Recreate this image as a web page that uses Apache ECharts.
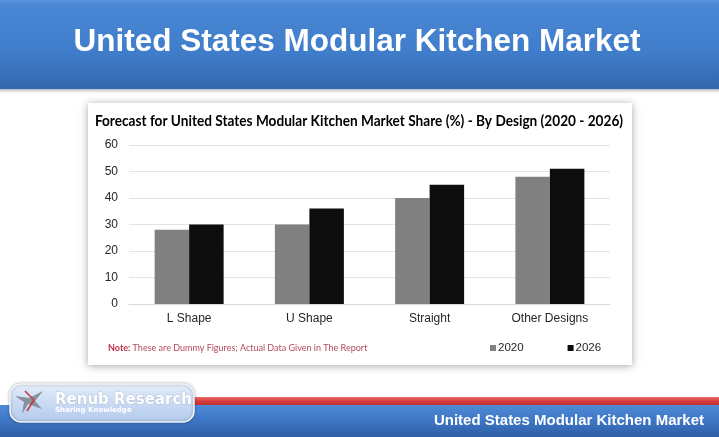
<!DOCTYPE html>
<html>
<head>
<meta charset="utf-8">
<script src="https://cdn.jsdelivr.net/npm/echarts@6/dist/echarts.min.js"></script>
<style>
html,body{margin:0;padding:0;background:#ffffff;}
#main{width:719px;height:437px;}
</style>
</head>
<body>
<div id="main"></div>
<script>
const categories = ['L Shape', 'U Shape', 'Straight', 'Other Designs'];
const seriesNames = ['2020', '2026'];
const values2020 = [28, 30, 40, 48];
const values2026 = [30, 36, 45, 51];
const yTicks = [0, 10, 20, 30, 40, 50, 60];

const slideTitle = 'United States Modular Kitchen Market';
const chartTitle = 'Forecast for United States Modular Kitchen Market Share (%) - By Design (2020 - 2026)';
const noteLabel = 'Note:';
const noteText = ' These are Dummy Figures; Actual Data Given in The Report';
const footerText = 'United States Modular Kitchen Market';
const logoName = 'Renub Research';
const logoTag = 'Sharing Knowledge';

const chart = echarts.init(document.getElementById('main'), null, {renderer: 'canvas'});
const arial = '"Liberation Sans", Arial, sans-serif';

const option = {
  backgroundColor: '#ffffff',
  animation: false,
  grid: {left: 129, right: 109, top: 145, bottom: 133, containLabel: false},
  xAxis: {
    type: 'category',
    data: categories,
    axisLine: {show: true, lineStyle: {color: '#d9d9d9'}},
    axisTick: {show: false},
    axisLabel: {color: '#262626', fontSize: 12, fontFamily: arial, margin: 9}
  },
  yAxis: {
    type: 'value',
    min: yTicks[0],
    max: yTicks[yTicks.length - 1],
    interval: 10,
    axisLine: {show: false},
    axisTick: {show: false},
    splitLine: {lineStyle: {color: '#e3e3e3', width: 1}},
    axisLabel: {color: '#262626', fontSize: 12, fontFamily: arial, margin: 11}
  },
  legend: {
    data: seriesNames,
    left: 490,
    top: 342,
    padding: 0,
    itemWidth: 6,
    itemHeight: 6,
    itemGap: 44,
    icon: 'rect',
    textStyle: {color: '#262626', fontSize: 11.5, fontFamily: arial, padding: [0, 0, 0, -3]}
  },
  series: [
    {name: seriesNames[0], type: 'bar', data: values2020, barWidth: 34.5, barGap: '0%',
     itemStyle: {color: '#808080'}},
    {name: seriesNames[1], type: 'bar', data: values2026, barWidth: 34.5, barGap: '0%',
     itemStyle: {color: '#0d0d0d'}}
  ],
  graphic: [
    // header band
    {type: 'rect', z: -10, shape: {x: 0, y: 0, width: 719, height: 89},
     style: {fill: new echarts.graphic.LinearGradient(0, 0, 0, 1, [
       {offset: 0, color: '#5b97e0'}, {offset: 0.04, color: '#4a88d6'},
       {offset: 0.6, color: '#3f7cc9'}, {offset: 1, color: '#3567ae'}])}},
    {type: 'rect', z: -11, shape: {x: 0, y: 89, width: 719, height: 4},
     style: {fill: new echarts.graphic.LinearGradient(0, 0, 0, 1, [
       {offset: 0, color: '#bdbdbd'}, {offset: 1, color: '#ffffff'}])}},
    {type: 'text', z: 10, x: 357, y: 42,
     style: {text: slideTitle, fill: '#ffffff', fontSize: 31.5, fontWeight: 'bold',
       fontFamily: arial, align: 'center', verticalAlign: 'middle'}},
    // card
    {type: 'rect', z: -9, shape: {x: 88, y: 103, width: 544, height: 262},
     style: {fill: '#ffffff', shadowBlur: 8, shadowColor: 'rgba(0,0,0,0.35)', shadowOffsetX: 0, shadowOffsetY: 1}},
    {type: 'text', z: 10, x: 359, y: 121, scaleX: 0.909,
     style: {text: chartTitle, fill: '#000000', fontSize: 15, fontWeight: 'bold',
       fontFamily: 'Lato, "Open Sans", sans-serif', align: 'center', verticalAlign: 'middle'}},
    {type: 'text', z: 10, x: 108, y: 348, scaleX: 0.9,
     style: {text: '{b|' + noteLabel + '}{n|' + noteText + '}', verticalAlign: 'middle',
       rich: {
         b: {fill: '#c0304a', fontSize: 10, fontWeight: 'bold', fontFamily: 'Lato, sans-serif'},
         n: {fill: '#b4475c', fontSize: 10, fontFamily: 'Lato, sans-serif'}
       }}},
    // footer
    {type: 'rect', z: -10, shape: {x: 190, y: 397, width: 529, height: 9},
     style: {fill: new echarts.graphic.LinearGradient(0, 0, 0, 1, [
       {offset: 0, color: '#e86a6a'}, {offset: 0.5, color: '#d53a3a'}, {offset: 1, color: '#b82a2a'}])}},
    {type: 'rect', z: -10, shape: {x: 0, y: 405, width: 719, height: 32},
     style: {fill: new echarts.graphic.LinearGradient(0, 0, 0, 1, [
       {offset: 0, color: '#4f8ad6'}, {offset: 0.5, color: '#3d76c4'}, {offset: 1, color: '#2f5ea6'}])}},
    {type: 'text', z: 10, x: 704, y: 421,
     style: {text: footerText, fill: '#ffffff', fontSize: 15, fontWeight: 'bold',
       fontFamily: arial, align: 'right', verticalAlign: 'middle'}},
    // logo
    {type: 'rect', z: -5, shape: {x: 10, y: 384, width: 184, height: 38, r: 11},
     style: {fill: new echarts.graphic.LinearGradient(0, 0, 0, 1, [
       {offset: 0, color: '#e6eefa'}, {offset: 0.5, color: '#c9daf3'}, {offset: 1, color: '#b3c9ec'}]),
       stroke: '#f2f6fc', lineWidth: 1.5, shadowBlur: 3, shadowColor: 'rgba(0,0,0,0.3)'}},
    {type: 'polygon', z: 5, shape: {points: [[15, 396], [29, 398], [43, 391], [35, 401], [42, 409], [28, 404], [22, 414], [24, 402]]},
     style: {fill: '#8a8f9c'}},
    {type: 'polyline', z: 6, shape: {points: [[25, 391], [34, 400], [27, 411]]},
     style: {stroke: '#c03a3a', lineWidth: 1.5, fill: null}},
    {type: 'text', z: 10, x: 55, y: 400,
     style: {text: logoName, fill: '#ffffff', fontSize: 15, fontWeight: 'bold',
       fontFamily: '"DejaVu Sans", Verdana, sans-serif', verticalAlign: 'middle',
       stroke: '#a3aec2', lineWidth: 0.7}},
    {type: 'text', z: 10, x: 55, y: 410.5,
     style: {text: logoTag, fill: '#ffffff', fontSize: 7, fontWeight: 'bold',
       fontFamily: '"DejaVu Sans", Verdana, sans-serif', verticalAlign: 'middle'}}
  ]
};
chart.setOption(option);
</script>
</body>
</html>
